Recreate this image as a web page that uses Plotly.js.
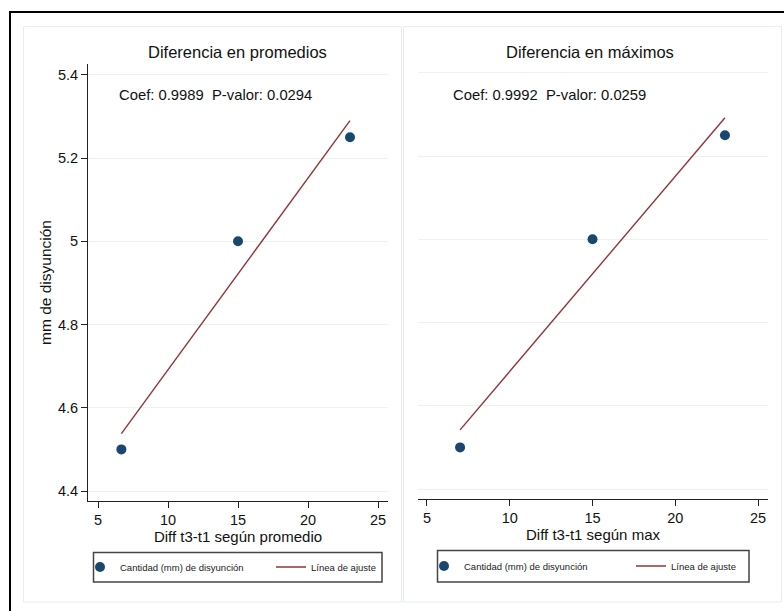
<!DOCTYPE html>
<html>
<head>
<meta charset="utf-8">
<script src="https://cdn.plot.ly/plotly-3.0.1.min.js"></script>
<style>html,body{margin:0;padding:0;background:#fff;}#chart{width:784px;height:611px;}</style>
</head>
<body>
<div id="chart"></div>
<script>
// ---- data ----
const xPromedio = [6.67, 15, 23];
const yPromedio = [4.5, 5.0, 5.25];
const xMaximo = [7, 15, 23];
const yMaximo = [4.5, 5.0, 5.25];
const fitPromedioX = [6.67, 23];
const fitPromedioY = [4.538, 5.29];
const fitMaximoX = [7, 23];
const fitMaximoY = [4.542, 5.292];
const xTickVals = [5, 10, 15, 20, 25];
const yTickVals = [4.4, 4.6, 4.8, 5.0, 5.2, 5.4];
const yTickText = ['4.4', '4.6', '4.8', '5', '5.2', '5.4'];
const panelTitles = ['Diferencia en promedios', 'Diferencia en máximos'];
const statTexts = ['Coef: 0.9989  P-valor: 0.0294', 'Coef: 0.9992  P-valor: 0.0259'];
const xTitles = ['Diff t3-t1 según promedio', 'Diff t3-t1 según max'];
const yTitle = 'mm de disyunción';
const seriesNames = ['Cantidad (mm) de disyunción', 'Línea de ajuste'];

// ---- helpers ----
const W = 784, H = 611;
const px = v => v / W;
const py = v => 1 - v / H;
const FONT = 'Liberation Sans, Arial, sans-serif';
const NAVY = '#1a476f';
const MAROON = '#90353b';
const GRID = '#eaf2f3';
const AX = '#222222';

const traces = [
  {x: xPromedio, y: yPromedio, xaxis: 'x', yaxis: 'y', mode: 'markers', type: 'scatter',
   name: seriesNames[0], legend: 'legend', marker: {color: NAVY, size: 10}},
  {x: fitPromedioX, y: fitPromedioY, xaxis: 'x', yaxis: 'y', mode: 'lines', type: 'scatter',
   name: seriesNames[1], legend: 'legend2', line: {color: MAROON, width: 1.4}},
  {x: xMaximo, y: yMaximo, xaxis: 'x2', yaxis: 'y2', mode: 'markers', type: 'scatter',
   name: seriesNames[0], legend: 'legend3', marker: {color: NAVY, size: 10}},
  {x: fitMaximoX, y: fitMaximoY, xaxis: 'x2', yaxis: 'y2', mode: 'lines', type: 'scatter',
   name: seriesNames[1], legend: 'legend4', line: {color: MAROON, width: 1.4}}
];

const xAxisBase = {
  tickmode: 'array', tickvals: xTickVals, showgrid: false, zeroline: false,
  showline: true, linecolor: AX, linewidth: 1, ticks: 'outside', ticklen: 6,
  tickcolor: AX, tickfont: {family: FONT, size: 14.5, color: '#111'}, fixedrange: true
};
const yAxisBase = {
  tickmode: 'array', tickvals: yTickVals, ticktext: yTickText, range: [4.376, 5.426],
  showgrid: true, gridcolor: GRID, gridwidth: 1, zeroline: false, fixedrange: true
};

const legendBase = {
  orientation: 'h', bgcolor: 'rgba(0,0,0,0)', borderwidth: 0,
  font: {family: FONT, size: 9.5, color: '#222'}, xanchor: 'left', yanchor: 'middle',
  itemclick: false, itemdoubleclick: false
};

const layout = {
  width: W, height: H, margin: {l: 0, r: 0, t: 0, b: 0},
  paper_bgcolor: '#ffffff', plot_bgcolor: '#ffffff',
  font: {family: FONT, color: '#111'},
  showlegend: true,
  xaxis: Object.assign({}, xAxisBase, {domain: [px(88), px(388)], range: [4.286, 25.714], anchor: 'y',
    title: {text: xTitles[0], font: {family: FONT, size: 15, color: '#111'}, standoff: 2}}),
  yaxis: Object.assign({}, yAxisBase, {domain: [py(501), py(64)], anchor: 'x',
    showline: true, linecolor: AX, linewidth: 1, ticks: 'outside', ticklen: 6, tickcolor: AX,
    tickfont: {family: FONT, size: 14.5, color: '#111'},
    title: {text: yTitle, font: {family: FONT, size: 15.5, color: '#111'}, standoff: 2}}),
  xaxis2: Object.assign({}, xAxisBase, {domain: [px(418), px(768)], range: [4.458, 25.6], anchor: 'y2',
    title: {text: xTitles[1], font: {family: FONT, size: 15, color: '#111'}, standoff: 2}}),
  yaxis2: Object.assign({}, yAxisBase, {domain: [py(499), py(62)], anchor: 'x2',
    showline: false, ticks: '', showticklabels: false}),
  legend: Object.assign({}, legendBase, {x: px(80), y: py(567), itemwidth: 30}),
  legend2: Object.assign({}, legendBase, {x: px(271), y: py(567), itemwidth: 30}),
  legend3: Object.assign({}, legendBase, {x: px(424), y: py(566), itemwidth: 30}),
  legend4: Object.assign({}, legendBase, {x: px(631), y: py(566), itemwidth: 30}),
  shapes: [
    // outer frame
    {type: 'rect', xref: 'paper', yref: 'paper', x0: px(10), x1: px(800), y0: py(12), y1: py(640),
     line: {color: '#000', width: 2}, fillcolor: 'rgba(0,0,0,0)', layer: 'below'},
    // panel frames
    {type: 'rect', xref: 'paper', yref: 'paper', x0: px(23.5), x1: px(401.5), y0: py(26.5), y1: py(602),
     line: {color: '#e6eef0', width: 1}, fillcolor: 'rgba(0,0,0,0)', layer: 'below'},
    {type: 'rect', xref: 'paper', yref: 'paper', x0: px(403.5), x1: px(781.5), y0: py(26.5), y1: py(602),
     line: {color: '#e6eef0', width: 1}, fillcolor: 'rgba(0,0,0,0)', layer: 'below'},
    // legend boxes
    {type: 'rect', xref: 'paper', yref: 'paper', x0: px(93.5), x1: px(382), y0: py(552.5), y1: py(582),
     line: {color: '#444', width: 1.5}, fillcolor: 'rgba(0,0,0,0)'},
    {type: 'rect', xref: 'paper', yref: 'paper', x0: px(437.5), x1: px(749), y0: py(550.5), y1: py(582),
     line: {color: '#444', width: 1.5}, fillcolor: 'rgba(0,0,0,0)'}
  ],
  annotations: [
    {xref: 'paper', yref: 'paper', x: px(238), y: py(52), text: panelTitles[0], showarrow: false,
     xanchor: 'center', yanchor: 'middle', font: {family: FONT, size: 16.5, color: '#111'}},
    {xref: 'paper', yref: 'paper', x: px(590), y: py(52), text: panelTitles[1], showarrow: false,
     xanchor: 'center', yanchor: 'middle', font: {family: FONT, size: 16.5, color: '#111'}},
    {xref: 'paper', yref: 'paper', x: px(117), y: py(95), text: statTexts[0].replace(/  /g, ' &nbsp;'), showarrow: false,
     xanchor: 'left', yanchor: 'middle', font: {family: FONT, size: 14.8, color: '#111'}},
    {xref: 'paper', yref: 'paper', x: px(451), y: py(95), text: statTexts[1].replace(/  /g, ' &nbsp;'), showarrow: false,
     xanchor: 'left', yanchor: 'middle', font: {family: FONT, size: 14.8, color: '#111'}}
  ]
};

Plotly.newPlot('chart', traces, layout, {displayModeBar: false, staticPlot: true});
</script>
</body>
</html>
